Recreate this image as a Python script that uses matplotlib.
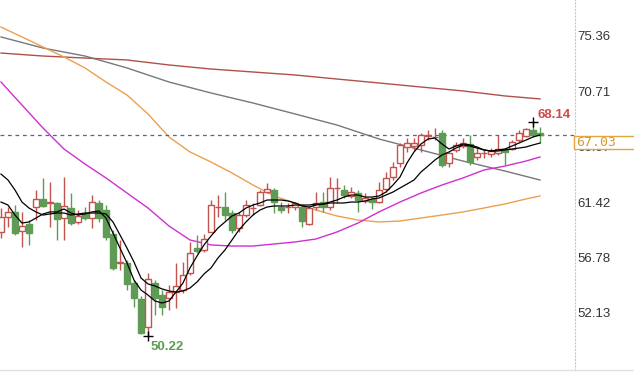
import matplotlib
matplotlib.use("Agg")
import matplotlib.pyplot as plt
from matplotlib.lines import Line2D
from matplotlib.patches import Rectangle

# daily candles, oldest first
opens = [58.92, 60.18, 60.60, 59.00, 59.59, 61.01, 61.69, 61.35, 61.35, 60.09,
         60.93, 59.76, 60.43, 60.09, 61.35, 60.76, 58.75, 56.32, 56.32, 54.64,
         53.30, 50.95, 54.64, 53.63, 53.38, 53.88, 54.05, 55.48, 57.57, 57.41,
         58.92, 61.01, 61.01, 60.51, 59.25, 60.34, 60.93, 61.18, 62.27, 62.44,
         61.01, 61.01, 61.01, 61.01, 59.59, 61.01, 61.43, 61.01, 62.61, 62.44,
         61.94, 62.19, 61.52, 61.69, 61.43, 62.53, 63.53, 64.71, 66.05, 66.13,
         66.22, 67.01, 66.85, 67.22, 64.71, 65.80, 66.13, 66.30, 65.21, 65.52,
         65.46, 65.54, 65.88, 65.88, 66.63, 66.97, 67.47, 67.20]
highs = [60.93, 61.01, 61.18, 60.60, 59.92, 62.44, 63.45, 63.11, 61.43, 63.53,
         62.19, 60.76, 61.01, 62.02, 61.60, 61.18, 59.09, 58.25, 56.57, 54.89,
         53.55, 55.48, 54.89, 54.05, 54.47, 56.32, 56.40, 58.08, 58.67, 58.75,
         61.60, 62.02, 62.27, 60.76, 60.60, 61.60, 61.35, 62.44, 63.03, 62.61,
         61.43, 61.35, 61.43, 61.18, 61.10, 62.27, 62.27, 63.53, 63.45, 62.86,
         62.69, 62.44, 62.19, 61.85, 63.11, 63.95, 64.79, 66.38, 66.80, 66.80,
         67.22, 67.47, 67.64, 67.47, 65.63, 66.47, 66.80, 67.05, 65.96, 65.88,
         65.96, 67.05, 65.96, 66.63, 67.47, 67.64, 68.14, 67.73]
lows = [58.41, 59.34, 58.67, 57.66, 57.83, 59.92, 61.01, 59.34, 58.25, 58.25,
        59.50, 59.59, 59.92, 59.25, 59.76, 58.25, 55.73, 55.73, 54.05, 52.63,
        50.35, 50.22, 51.96, 51.96, 52.38, 52.54, 53.80, 55.31, 57.16, 57.24,
        58.92, 60.18, 59.92, 58.83, 58.92, 60.18, 60.34, 61.10, 62.19, 60.51,
        60.51, 60.51, 60.76, 59.34, 59.50, 60.76, 60.60, 60.76, 61.35, 61.77,
        61.77, 60.60, 61.35, 60.85, 61.35, 62.27, 63.28, 64.37, 65.63, 65.80,
        65.63, 66.63, 66.63, 64.37, 64.37, 65.63, 65.96, 64.54, 64.96, 65.13,
        65.21, 65.38, 64.54, 65.80, 66.47, 66.89, 66.89, 66.38]
closes = [60.18, 60.60, 58.83, 59.42, 58.83, 61.69, 61.10, 61.43, 60.01, 61.10,
          59.67, 60.26, 60.09, 61.43, 60.09, 58.50, 55.90, 56.40, 54.56, 53.38,
          50.45, 54.97, 53.38, 52.63, 53.88, 54.39, 55.31, 57.16, 57.32, 58.33,
          61.18, 61.05, 60.34, 59.09, 60.34, 61.18, 60.97, 62.27, 62.53, 61.43,
          60.76, 61.05, 61.35, 59.84, 60.93, 61.35, 61.01, 62.61, 62.65, 62.02,
          62.27, 61.60, 61.77, 61.43, 62.44, 63.45, 64.37, 66.22, 66.38, 66.38,
          67.05, 67.05, 66.89, 64.54, 65.54, 66.22, 66.38, 64.79, 65.54, 65.56,
          65.71, 65.88, 65.63, 66.47, 67.22, 67.56, 67.05, 67.03]

# short averages, one value per candle
ma_fast = [61.43, 61.18, 60.34, 59.67, 59.76, 60.09, 60.43, 60.60, 60.60, 60.85,
           60.51, 60.34, 60.43, 60.60, 60.68, 60.09, 58.83, 57.57, 56.32, 54.89,
           54.05, 53.63, 53.13, 52.96, 53.13, 53.88, 54.64, 55.90, 56.90, 57.83,
           58.58, 59.25, 59.76, 60.26, 60.51, 60.93, 61.18, 61.35, 61.60, 61.60,
           61.60, 61.52, 61.35, 61.10, 61.01, 61.18, 61.26, 61.43, 61.60, 61.85,
           62.02, 62.02, 61.85, 61.85, 61.94, 62.27, 62.86, 63.53, 64.71, 65.63,
           66.30, 66.72, 66.80, 66.30, 65.88, 66.13, 66.30, 66.22, 66.05, 65.80,
           65.71, 65.80, 65.88, 66.13, 66.38, 66.63, 66.89, 67.05]
ma_slow = [63.78, 63.28, 62.44, 61.43, 60.93, 60.60, 60.34, 60.43, 60.51, 60.51,
           60.34, 60.43, 60.51, 60.51, 60.51, 60.43, 59.76, 58.67, 57.57, 56.40,
           55.06, 54.56, 54.39, 54.14, 53.97, 53.88, 53.97, 54.22, 54.72, 55.39,
           55.90, 56.74, 57.41, 58.25, 59.09, 59.76, 60.34, 60.76, 61.01, 61.10,
           61.10, 61.10, 61.18, 61.18, 61.18, 61.26, 61.26, 61.35, 61.35, 61.35,
           61.43, 61.43, 61.52, 61.69, 61.77, 62.02, 62.27, 62.61, 62.94, 63.28,
           63.95, 64.45, 64.96, 65.38, 65.63, 65.96, 66.22, 66.13, 65.96, 65.80,
           65.71, 65.71, 65.80, 65.88, 65.96, 66.05, 66.22, 66.38]

# long averages, read every few candles
idx_a = [0, 6, 12, 18, 24, 30, 36, 42, 48, 54, 60, 66, 72, 77]
ma_red = [73.93, 73.68, 73.51, 73.35, 72.93, 72.59, 72.34, 72.09, 71.75, 71.42,
          71.08, 70.75, 70.33, 70.08]
ma_gray = [75.28, 74.35, 73.68, 72.68, 71.50, 70.58, 69.74, 68.82, 67.89, 66.72,
           65.80, 64.87, 64.03, 63.28]
idx_b = [0, 3, 6, 9, 12, 15, 18, 21, 24, 27, 30, 33, 36, 39, 42, 45, 48, 51,
         54, 57, 60, 63, 66, 69, 72, 75, 77]
ma_orange = [76.11, 75.28, 74.44, 73.60, 72.68, 71.50, 70.41, 68.82, 66.89, 65.63,
             64.79, 63.87, 62.86, 61.94, 61.35, 60.76, 60.26, 59.92, 59.76, 59.84,
             60.09, 60.34, 60.60, 60.93, 61.27, 61.69, 61.94]
ma_magenta = [71.50, 69.57, 67.64, 65.88, 64.62, 63.45, 62.19, 60.93, 59.42, 58.25,
              57.83, 57.74, 57.74, 57.91, 58.08, 58.33, 58.92, 59.67, 60.60, 61.43,
              62.19, 62.86, 63.45, 64.12, 64.45, 64.87, 65.21]

yticks = [52.13, 56.78, 61.42, 66.07, 70.71, 75.36]
last_price = 67.03
hi_idx, hi_val = 76, 68.14
lo_idx, lo_val = 21, 50.22

up_col = "#c25450"
dn_col = "#5e9c55"

fig = plt.figure(figsize=(6.34, 3.73), dpi=100)
ax = fig.add_axes([0, 3 / 373, 575 / 634, 370 / 373])
ax.set_xlim(-0.14, 82.0)
ax.set_ylim(47.34, 78.38)

ax.plot(idx_a, ma_red, color="#b0504a", lw=1.0, zorder=1)
ax.plot(idx_a, ma_gray, color="#787878", lw=1.0, zorder=1)
ax.plot(idx_b, ma_orange, color="#eba050", lw=1.0, zorder=1)
ax.plot(idx_b, ma_magenta, color="#d030d0", lw=1.0, zorder=1)

ax.axhline(last_price, color="#3a7090", lw=0.9, dashes=(3, 3), zorder=1)

w = 0.72
for i in range(len(opens)):
    o, h, l, c = opens[i], highs[i], lows[i], closes[i]
    if c >= o:
        ax.vlines(i, c, h, color=up_col, lw=1, zorder=2)
        ax.vlines(i, l, o, color=up_col, lw=1, zorder=2)
        ax.bar(i, max(c - o, 0.03), bottom=o, width=w, facecolor="white",
               edgecolor=up_col, lw=1, zorder=3)
    else:
        ax.vlines(i, l, h, color=dn_col, lw=1, zorder=2)
        ax.bar(i, o - c, bottom=c, width=w, facecolor=dn_col,
               edgecolor=dn_col, lw=1, zorder=3)

x = list(range(len(opens)))
ax.plot(x, ma_slow, color="black", lw=0.9, zorder=4)
ax.plot(x, ma_fast, color="black", lw=0.9, zorder=4)

# extreme markers
ax.plot(hi_idx, hi_val, marker="+", ms=7, mew=1, color="black", zorder=5)
ax.plot(lo_idx, lo_val, marker="+", ms=7, mew=1, color="black", zorder=5)
ax.annotate(f"{hi_val:.2f}", (hi_idx, hi_val), xytext=(3, 0.8), textcoords="offset points",
            ha="left", va="bottom", color="#cf4a48", fontsize=9.5, fontweight="bold",
            family="Liberation Sans")
ax.annotate(f"{lo_val:.2f}", (lo_idx, lo_val), xytext=(2, -3.8), textcoords="offset points",
            ha="left", va="top", color="#5e9c55", fontsize=9.5, fontweight="bold",
            family="Liberation Sans")

for s in ["top", "left", "bottom"]:
    ax.spines[s].set_visible(False)
ax.spines["right"].set_color("#c8c8c8")
ax.spines["right"].set_linestyle((0, (1, 2)))
ax.set_xticks([])
ax.yaxis.tick_right()
ax.set_yticks(yticks)
ax.set_yticklabels([f"{v:.2f}" for v in yticks])
ax.tick_params(axis="y", length=0, pad=2, labelsize=9.5, labelcolor="#333333")
for t in ax.get_yticklabels():
    t.set_family("Liberation Sans")

# last price box on the scale, drawn over the 66.07 label as in the source
fig.patches.append(Rectangle((574 / 634, (373 - 149) / 373), 62 / 634, 13 / 373,
                             transform=fig.transFigure, facecolor="white",
                             edgecolor="#e2a540", lw=1, zorder=3))
fig.text(576 / 634, (373 - 142.5) / 373, f"{last_price:.2f}", color="#d89a30",
         fontsize=9.5, family="DejaVu Sans Mono", va="center", ha="left", zorder=4)

fig.lines.append(Line2D([0, 1], [3 / 373, 3 / 373], transform=fig.transFigure,
                        color="#e2e2e2", lw=1))

fig.savefig("out.png", dpi=100, facecolor="white")
